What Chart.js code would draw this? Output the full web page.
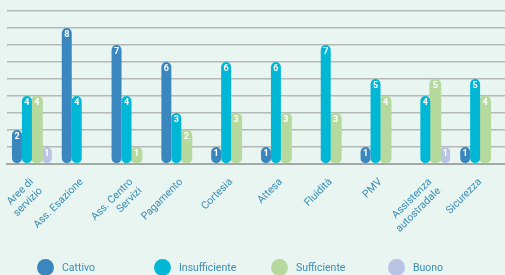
<!DOCTYPE html>
<html>
<head>
<meta charset="utf-8">
<script src="https://cdn.jsdelivr.net/npm/chart.js@4.4.1/dist/chart.umd.min.js"></script>
<style>
  html, body { margin: 0; padding: 0; background: #e8f5f0; }
  #wrap { position: relative; width: 505px; height: 275px; overflow: hidden; }
  canvas { position: absolute; left: 0; top: 0; }
  #legend { position: absolute; left: 37px; top: 258px; height: 18px; display: flex; }
  .item { width: 117px; display: flex; align-items: center; font-family: Roboto, sans-serif; font-size: 10.5px; color: #3b8db6; }
  .dot { width: 17px; height: 17px; border-radius: 50%; margin-right: 8px; flex: none; }
</style>
</head>
<body>
<div id="wrap">
  <canvas id="c" width="505" height="275"></canvas>
  <div id="legend"></div>
</div>
<script>
const categories = [
  ["Aree di", "servizio"], "Ass. Esazione", ["Ass. Centro", "Servizi"], "Pagamento", "Cortesia",
  "Attesa", "Fluidità", "PMV", ["Assistenza", "autostradale"], "Sicurezza"
];
const seriesNames = ["Cattivo", "Insufficiente", "Sufficiente", "Buono"];
const cattivo       = [2, 8, 7, 6, 1, 1, null, 1, null, 1];
const insufficiente = [4, 4, 4, 3, 6, 6, 7, 5, 4, 5];
const sufficiente   = [4, null, 1, 2, 3, 3, 3, 4, 5, 4];
const buono         = [1, null, null, null, null, null, null, null, 1, null];
const yTicks = [0, 1, 2, 3, 4, 5, 6, 7, 8, 9];

const colors = ["#3a87c0", "#00b8d6", "#b6d99e", "#b9c3e3"];
const seriesData = [cattivo, insufficiente, sufficiente, buono];

const legend = document.getElementById('legend');
seriesNames.forEach((n, i) => {
  const it = document.createElement('div');
  it.className = 'item';
  const d = document.createElement('span');
  d.className = 'dot';
  d.style.background = colors[i];
  it.appendChild(d);
  it.appendChild(document.createTextNode(n));
  legend.appendChild(it);
});

const labelPlugin = {
  id: 'barLabels',
  afterDatasetsDraw(chart) {
    const ctx = chart.ctx;
    ctx.save();
    ctx.font = 'bold 9px Roboto, sans-serif';
    ctx.fillStyle = '#ffffff';
    ctx.textAlign = 'center';
    ctx.textBaseline = 'middle';
    chart.data.datasets.forEach((ds, di) => {
      const meta = chart.getDatasetMeta(di);
      meta.data.forEach((bar, i) => {
        const v = ds.data[i];
        if (v === null || v === undefined) return;
        ctx.fillText(String(v), bar.x, bar.y + 7);
      });
    });
    ctx.restore();
  }
};

new Chart(document.getElementById('c'), {
  type: 'bar',
  data: {
    labels: categories,
    datasets: seriesNames.map((n, i) => ({
      label: n,
      data: seriesData[i],
      backgroundColor: colors[i],
      borderRadius: 5,
      borderSkipped: false,
      categoryPercentage: 0.8,
      barPercentage: i === 2 ? 1.2 : 1.0
    }))
  },
  options: {
    responsive: false,
    animation: false,
    layout: { padding: { left: 7, right: 0, top: 11, bottom: 0 } },
    plugins: { legend: { display: false }, tooltip: { enabled: false } },
    scales: {
      x: {
        grid: { display: false },
        border: { display: true, color: '#a3aaa6', width: 2 },
        ticks: {
          color: '#3b8db6',
          font: { family: 'Roboto, sans-serif', size: 10.5 },
          maxRotation: 45, minRotation: 45,
          autoSkip: false,
          padding: 4
        },
        afterFit(s) { s.height = 111; }
      },
      y: {
        min: 0, max: 9,
        afterBuildTicks(s) { s.ticks = yTicks.map(v => ({ value: v })); },
        ticks: { display: false },
        border: { display: false },
        grid: { color: '#b4bab7', lineWidth: 1.5, drawTicks: false, tickLength: 0 }
      }
    }
  },
  plugins: [labelPlugin]
});
</script>
</body>
</html>
